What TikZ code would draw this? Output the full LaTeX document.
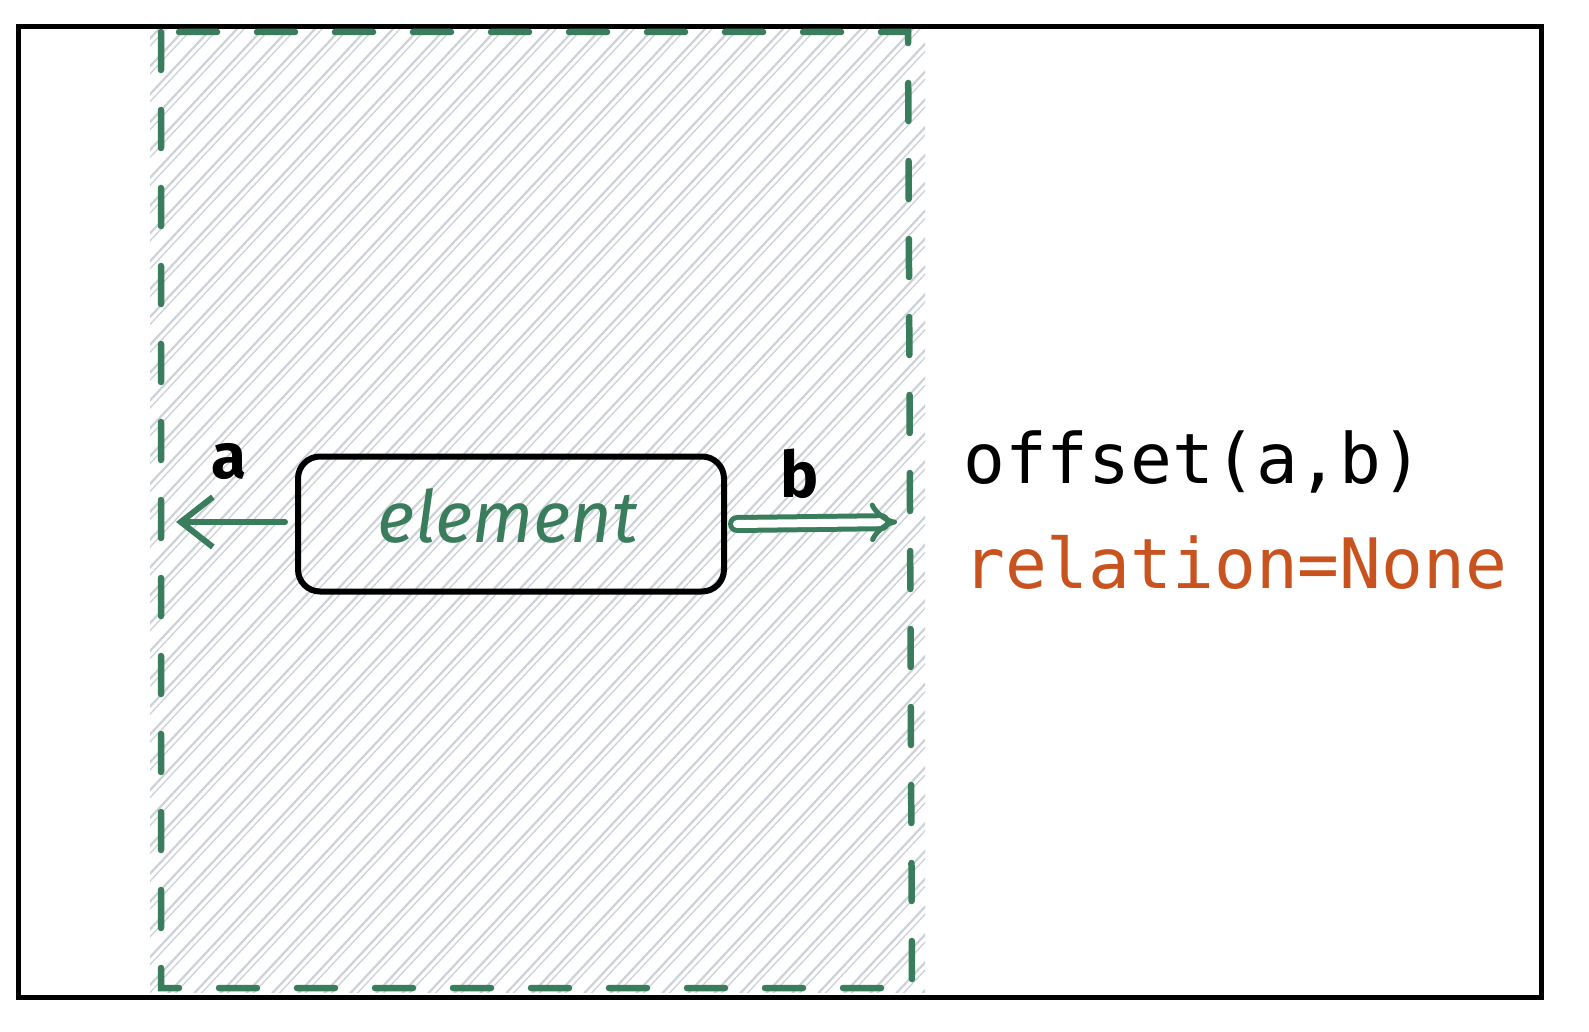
\documentclass[tikz,border=0pt]{standalone}
\usepackage{fontspec}
\setmainfont{Fira Sans}
\newfontfamily\codefont{DejaVu Sans Mono}
\usetikzlibrary{arrows.meta}
\definecolor{hgreen}{HTML}{3A7D5C}
\definecolor{hatchgray}{HTML}{CDD2D9}
\definecolor{rorange}{HTML}{C8531F}
\tikzset{
  frame/.style={draw=black, line width=5pt},
  zone/.style={draw=hgreen, line width=6.5pt, dash pattern=on 38pt off 40pt, line cap=round},
  elbox/.style={draw=black, line width=6pt, rounded corners=22pt, minimum width=426pt, minimum height=135pt, inner sep=0pt},
  hatch/.style={draw=hatchgray, line width=2.2pt},
  hatchthin/.style={draw=hatchgray, line width=1.3pt},
  garrow/.style={draw=hgreen, line width=6pt, line cap=round},
}
\begin{document}
\begin{tikzpicture}[x=1pt,y=-1pt]
\useasboundingbox (0,0) rectangle (1589,1032);
\fill[white] (0,0) rectangle (1589,1032);
% hatch
\begin{scope}
\clip (150,25) rectangle (925,992);
\foreach \x in {-950,-924,...,930} {
  \draw[hatch] (\x+150,1000) -- ++(920,-985);
  \draw[hatchthin] (\x+157,1000) -- ++(920,-985);
}
\end{scope}
% outer frame
\draw[frame] (18,27) rectangle (1541,997);
% dashed zone
\draw[zone] (161,32) -- (161,988) -- (912,988) -- (908,32) -- cycle;
% element
\node[elbox] (el) at (511,524) {};
\node[text=hgreen, font=\fontsize{72}{72}\selectfont\itshape] (eltxt) at (508,516) {element};
% left arrow
\coordinate (aend) at (176,522);
\draw[garrow, -{Straight Barb[length=32pt,width=50pt,line width=6pt]}] (el.west) ++(-10,-2) -- (aend);
\node[font=\fontsize{64}{64}\selectfont\bfseries] (alab) at (229,462) {a};
% right arrow
\coordinate (bend) at (897,522);
\draw[garrow, line width=5pt, double=white, double distance=8pt, -{Implies[length=30pt,width=52pt]}] ([xshift=10pt]el.east) -- (bend);
\node[font=\fontsize{64}{64}\selectfont\bfseries] (blab) at (800,474) {b};
% texts
\node[anchor=base west, font=\codefont\fontsize{69.5}{69.5}\selectfont, inner sep=0pt] (off) at (963,483) {offset(a,b)};
\node[anchor=base west, font=\codefont\fontsize{69.5}{69.5}\selectfont, text=rorange, inner sep=0pt] (rel) at (963,588) {relation=None};
\end{tikzpicture}
\end{document}
